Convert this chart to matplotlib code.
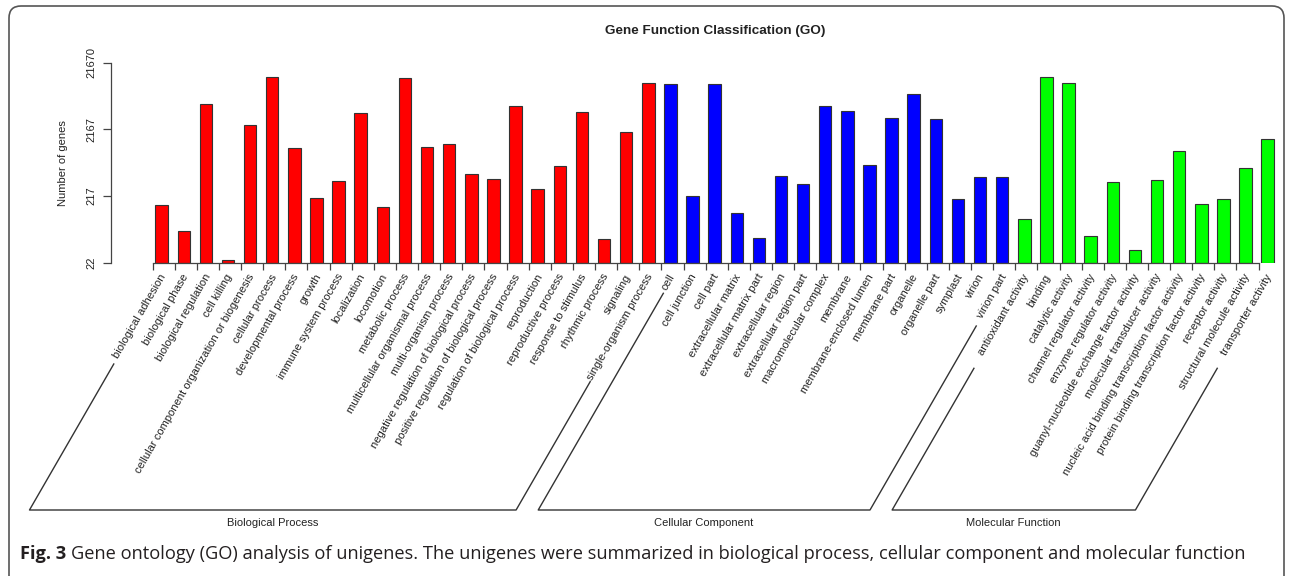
import numpy as np
import matplotlib
matplotlib.use('Agg')
import matplotlib.pyplot as plt
from matplotlib.patches import FancyBboxPatch
from matplotlib.lines import Line2D
from matplotlib.transforms import IdentityTransform, offset_copy

plt.rcParams['font.family'] = ['Liberation Sans', 'DejaVu Sans']

# GO terms and unigene counts per category
bp_terms = ['biological adhesion', 'biological phase', 'biological regulation', 'cell killing',
            'cellular component organization or biogenesis', 'cellular process',
            'developmental process', 'growth', 'immune system process', 'localization',
            'locomotion', 'metabolic process', 'multicellular organismal process',
            'multi-organism process', 'negative regulation of biological process',
            'positive regulation of biological process', 'regulation of biological process',
            'reproduction', 'reproductive process', 'response to stimulus', 'rhythmic process',
            'signaling', 'single-organism process']
bp_counts = [159, 64, 5208, 24, 2552, 13370, 1128, 200, 369, 3854, 149, 12783, 1180,
             1309, 470, 391, 4805, 274, 605, 3998, 49, 2004, 10760]

cc_terms = ['cell', 'cell junction', 'cell part', 'extracellular matrix',
            'extracellular matrix part', 'extracellular region', 'extracellular region part',
            'macromolecular complex', 'membrane', 'membrane-enclosed lumen', 'membrane part',
            'organelle', 'organelle part', 'symplast', 'virion', 'virion part']
cc_counts = [10390, 218, 10390, 122, 50, 433, 332, 4860, 4088, 634, 3249, 7447, 3069,
             196, 418, 418]

mf_terms = ['antioxidant activity', 'binding', 'catalytic activity', 'channel regulator activity',
            'enzyme regulator activity', 'guanyl-nucleotide exchange factor activity',
            'molecular transducer activity', 'nucleic acid binding transcription factor activity',
            'protein binding transcription factor activity', 'receptor activity',
            'structural molecule activity', 'transporter activity']
mf_counts = [97, 13236, 10620, 55, 352, 34, 378, 1017, 165, 198, 572, 1537]

groups = ['Biological Process', 'Cellular Component', 'Molecular Function']
group_colors = ['#FF0000', '#0000FF', '#00FF00']
ymax = 21670

terms = bp_terms + cc_terms + mf_terms
counts = np.array(bp_counts + cc_counts + mf_counts, dtype=float)
sizes = [len(bp_terms), len(cc_terms), len(mf_terms)]
colors = sum([[c] * n for c, n in zip(group_colors, sizes)], [])

W, H = 1292, 576
fig = plt.figure(figsize=(W / 100, H / 100), dpi=100)

def fpos(px, py):
    # pixel position measured from the top-left corner -> figure fraction
    return px / W, 1 - py / H

ax = fig.add_axes([111 / W, 1 - 262.7 / H, (1280 - 111) / W, 200 / H])
x = np.arange(len(counts))
ybase = ymax / 1000
ax.bar(x, counts - ybase, bottom=ybase, width=0.565, color=colors,
       edgecolor='#333333', linewidth=0.8)
ax.set_yscale('log')
ax.set_ylim(ybase, ymax)
ax.set_xlim(-2.29, 50.56)

for s in ['top', 'right']:
    ax.spines[s].set_visible(False)
for s in ['left', 'bottom']:
    ax.spines[s].set_color('#444444')
    ax.spines[s].set_linewidth(0.9)
ax.spines['bottom'].set_bounds(-0.407, len(counts) - 1 - 0.407)

yt = [ymax / 1000, ymax / 100, ymax / 10, ymax]
ax.set_yticks(yt)
ax.set_yticklabels(['%d' % round(v) for v in yt], rotation=90, va='center')
ax.yaxis.set_minor_locator(matplotlib.ticker.NullLocator())
ax.tick_params(axis='y', length=5.8, width=0.9, color='#444444', labelsize=8,
               labelcolor='#222222', pad=5)
ax.set_xticks(x - 0.407)
ax.set_xticklabels([])
ax.tick_params(axis='x', length=5, width=0.9, color='#444444')

# rotated term labels under each bar
lab_tr = offset_copy(ax.get_xaxis_transform(), fig=fig, x=2, y=-12, units='dots')
for i, t in enumerate(terms):
    ax.text(i, 0, t, transform=lab_tr, rotation=60, rotation_mode='anchor',
            ha='right', va='center', fontsize=8, color='#222222')

# slanted brackets grouping the three GO categories
tan60 = np.tan(np.radians(60))
bottom_y = 510
tops = [(364, 381.7), (293.3, 326), (368.3, 368.3)]
start = 0
for g, n, (tl, tr) in zip(groups, sizes, tops):
    xl = ax.transData.transform((start, ybase))[0] + 3.5
    xr = ax.transData.transform((start + n - 1, ybase))[0] + 3.5
    pts = [(xl - (tl - 275) / tan60, tl), (xl - (bottom_y - 275) / tan60, bottom_y),
           (xr - (bottom_y - 275) / tan60, bottom_y), (xr - (tr - 275) / tan60, tr)]
    fx, fy = zip(*[fpos(px, py) for px, py in pts])
    fig.add_artist(Line2D(fx, fy, color='#333333', lw=1.0))
    cx = (pts[1][0] + pts[2][0]) / 2
    fig.text(*fpos(cx, 523), g, ha='center', va='center', fontsize=8, color='#222222')
    start += n

fig.text(*fpos(715, 31), 'Gene Function Classification (GO)', ha='center', va='center',
         fontsize=9.7, fontweight='bold', color='#222222')
fig.text(*fpos(63, 162.7), 'Number of genes', rotation=90, ha='center', va='center',
         fontsize=8, color='#222222')

# caption
cap_font = ['Open Sans', 'DejaVu Sans']
t1 = fig.text(*fpos(20, 554), 'Fig. 3', ha='left', va='center', fontsize=13.15,
              fontweight='bold', family=cap_font, color='#231f20')
fig.canvas.draw()
bb = t1.get_window_extent()
fig.text((bb.x1 + 5) / W, 1 - 554 / H,
         'Gene ontology (GO) analysis of unigenes. The unigenes were summarized in '
         'biological process, cellular component and molecular function',
         ha='left', va='center', fontsize=13.15, family=cap_font, color='#231f20')

# rounded frame around the figure
fig.add_artist(FancyBboxPatch((9, -20), 1275, 570 + 20,
                              boxstyle='round,pad=0,rounding_size=12',
                              transform=IdentityTransform(), fill=False,
                              edgecolor='#555555', lw=1.2))

fig.savefig('out.png', dpi=100)
